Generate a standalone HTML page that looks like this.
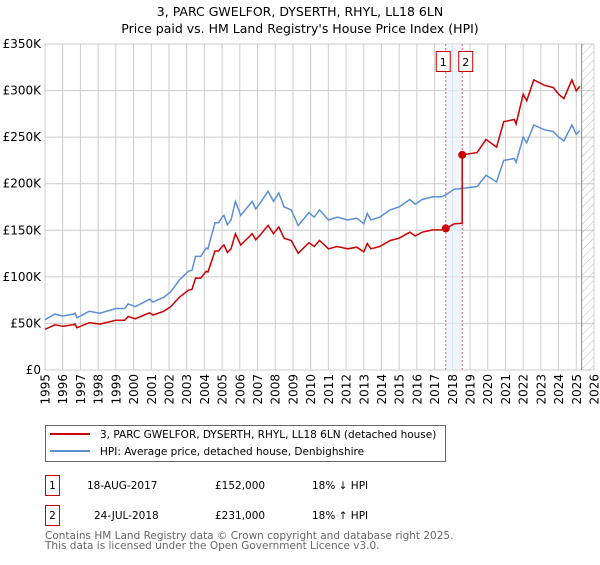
<!DOCTYPE html>
<html><head><meta charset="utf-8"><style>
body{margin:0;background:#fff}
svg text{font-family:"DejaVu Sans","Liberation Sans",sans-serif}
</style></head><body>
<svg id="c" width="600" height="560" viewBox="0 0 600 560" xmlns="http://www.w3.org/2000/svg">
<defs><pattern id="hatch" width="6" height="6" patternUnits="userSpaceOnUse" patternTransform="rotate(45)"><line x1="0" y1="0" x2="0" y2="6" stroke="#bbb" stroke-width="1"/></pattern></defs>
<text x="300" y="16" text-anchor="middle" font-size="12.5">3, PARC GWELFOR, DYSERTH, RHYL, LL18 6LN</text>
<text x="300" y="33" text-anchor="middle" font-size="12.5">Price paid vs. HM Land Registry's House Price Index (HPI)</text>
<g id="grid"></g>
<g id="marks"></g>
<g id="axes"></g>
<g>
<rect x="45.5" y="425.5" width="400" height="36" fill="#fff" stroke="#666"/>
<line x1="50" y1="434" x2="90" y2="434" stroke="#cc0000" stroke-width="2"/>
<text x="100" y="438" font-size="10.5">3, PARC GWELFOR, DYSERTH, RHYL, LL18 6LN (detached house)</text>
<line x1="50" y1="451" x2="90" y2="451" stroke="#5b8fd6" stroke-width="2"/>
<text x="100" y="455" font-size="10.5">HPI: Average price, detached house, Denbighshire</text>
</g>
<g font-size="10.5">
<rect x="45.5" y="475.5" width="14" height="20" fill="none" stroke="#cc0000"/>
<text x="52.5" y="489" text-anchor="middle">1</text>
<text x="87" y="489">18-AUG-2017</text><text x="215" y="489">£152,000</text><text x="312" y="489">18% ↓ HPI</text>
<rect x="45.5" y="505.5" width="14" height="20" fill="none" stroke="#cc0000"/>
<text x="52.5" y="519" text-anchor="middle">2</text>
<text x="94" y="519">24-JUL-2018</text><text x="215" y="519">£231,000</text><text x="312" y="519">18% ↑ HPI</text>
</g>
<text x="45" y="539" font-size="10.5" fill="#666">Contains HM Land Registry data © Crown copyright and database right 2025.</text>
<text x="45" y="549" font-size="10.5" fill="#666">This data is licensed under the Open Government Licence v3.0.</text>
</svg>
<script>
const hpiYears=[1995.0,1995.56,1996.0,1996.6,1996.7,1996.8,1997.5,1998.1,1999.0,1999.5,1999.7,2000.1,2000.6,2000.9,2001.1,2001.7,2002.1,2002.6,2003.1,2003.3,2003.5,2003.8,2004.1,2004.2,2004.6,2004.8,2005.0,2005.1,2005.3,2005.5,2005.75,2006.05,2006.4,2006.7,2006.9,2007.14,2007.6,2007.9,2008.2,2008.5,2008.9,2009.3,2009.9,2010.2,2010.5,2011.0,2011.5,2012.1,2012.6,2013.0,2013.2,2013.4,2013.9,2014.5,2015.0,2015.6,2015.9,2016.3,2016.9,2017.4,2017.63,2018.1,2018.56,2019.4,2019.9,2020.5,2020.9,2021.5,2021.6,2022.0,2022.2,2022.6,2023.2,2023.7,2024.0,2024.3,2024.75,2025.0,2025.2];
const hpiValues=[54,60,58,60,61,56,63,61,66,66,71,68,73,76,73,78,84,97,106,107,122,122,131,130,158,158,164,166,156,161,181,166,174,181,173,179,192,181,190,175,172,155,169,164,172,161,164,161,163,157,168,161,164,172,175,183,178,183,186,186,188,194,195,197,209,202,225,227,223,250,244,263,258,256,250,246,263,253,257];
const saleYears=[2017.63,2018.56];
const salePrices=[152,231];
const yTicks=[0,50,100,150,200,250,300,350];
const yTickLabels=["£0","£50K","£100K","£150K","£200K","£250K","£300K","£350K"];
const xTicks=[1995,1996,1997,1998,1999,2000,2001,2002,2003,2004,2005,2006,2007,2008,2009,2010,2011,2012,2013,2014,2015,2016,2017,2018,2019,2020,2021,2022,2023,2024,2025,2026];
const dataEnd=2025.3;
const X0=45,X1=594,Y0=370,Y1=44;
const sx=y=>X0+(y-1995)/31*(X1-X0);
const sy=v=>Y0-v/350*(Y0-Y1);
const NS="http://www.w3.org/2000/svg";
function mk(tag,attrs,parent){const e=document.createElementNS(NS,tag);for(const k in attrs)e.setAttribute(k,attrs[k]);parent.appendChild(e);return e;}
const grid=document.getElementById('grid'),marks=document.getElementById('marks'),axes=document.getElementById('axes');
function hpiAt(t){for(let i=1;i<hpiYears.length;i++){if(t<=hpiYears[i]){const f=(t-hpiYears[i-1])/(hpiYears[i]-hpiYears[i-1]);return hpiValues[i-1]+f*(hpiValues[i]-hpiValues[i-1]);}}return hpiValues[hpiValues.length-1];}
xTicks.forEach(t=>{const l=mk('line',{x1:sx(t),x2:sx(t),y1:Y1,y2:Y0,stroke:'#ccc'},grid);

const x=sx(t)+4.5;
const tx=mk('text',{x:x,y:374,'text-anchor':'end','font-size':'12',transform:'rotate(-90 '+x+' 374)'},axes);tx.textContent=t;
});
yTicks.forEach((v,i)=>{const l=mk('line',{x1:X0,x2:X1,y1:sy(v),y2:sy(v),stroke:'#ccc'},grid);

const tx=mk('text',{x:41,y:sy(v)+4,'text-anchor':'end','font-size':'12'},axes);tx.textContent=yTickLabels[i];
});
const band=mk('rect',{x:sx(saleYears[0]),y:Y1,width:sx(saleYears[1])-sx(saleYears[0]),height:Y0-Y1,fill:'#e8effb',opacity:0.6},marks);

const ht=mk('rect',{x:sx(dataEnd),y:Y1,width:X1-sx(dataEnd),height:Y0-Y1,fill:'url(#hatch)'},marks);

const el=mk('line',{x1:sx(dataEnd),x2:sx(dataEnd),y1:Y1,y2:Y0,stroke:'#888'},marks);

saleYears.forEach((s,i)=>{const l=mk('line',{x1:sx(s),x2:sx(s),y1:Y1,y2:Y0,stroke:'#e06060','stroke-dasharray':'2,2'},marks);

const r=mk('rect',{x:sx(s)-7-(i===0?3:-3)+0.5,y:51.5,width:14,height:20,fill:'#fff',stroke:'#cc0000'},marks);

const t=mk('text',{x:sx(s)-(i===0?3:-3)+0.5,y:66,'text-anchor':'middle','font-size':'11'},marks);t.textContent=i+1;
});
const hp=mk('path',{d:hpiYears.map((y,i)=>(i?'L':'M')+sx(y).toFixed(1)+','+sy(hpiValues[i]).toFixed(1)).join(''),fill:'none',stroke:'#5b8fd6','stroke-width':1.5},marks);

const r1=salePrices[0]/hpiAt(saleYears[0]),r2=salePrices[1]/hpiAt(saleYears[1]);
let pts=[];
hpiYears.forEach((y,i)=>{if(y<saleYears[1])pts.push([y,hpiValues[i]*r1]);});
pts.push([saleYears[1],hpiAt(saleYears[1])*r1]);pts.push([saleYears[1],salePrices[1]]);
hpiYears.forEach((y,i)=>{if(y>saleYears[1])pts.push([y,hpiValues[i]*r2]);});
const pp=mk('path',{d:pts.map((p,i)=>(i?'L':'M')+sx(p[0]).toFixed(1)+','+sy(p[1]).toFixed(1)).join(''),fill:'none',stroke:'#cc0000','stroke-width':1.5},marks);

saleYears.forEach((s,i)=>{const c=mk('circle',{cx:sx(s),cy:sy(salePrices[i]),r:4,fill:'#cc0000'},marks);
});
</script>
</body></html>
